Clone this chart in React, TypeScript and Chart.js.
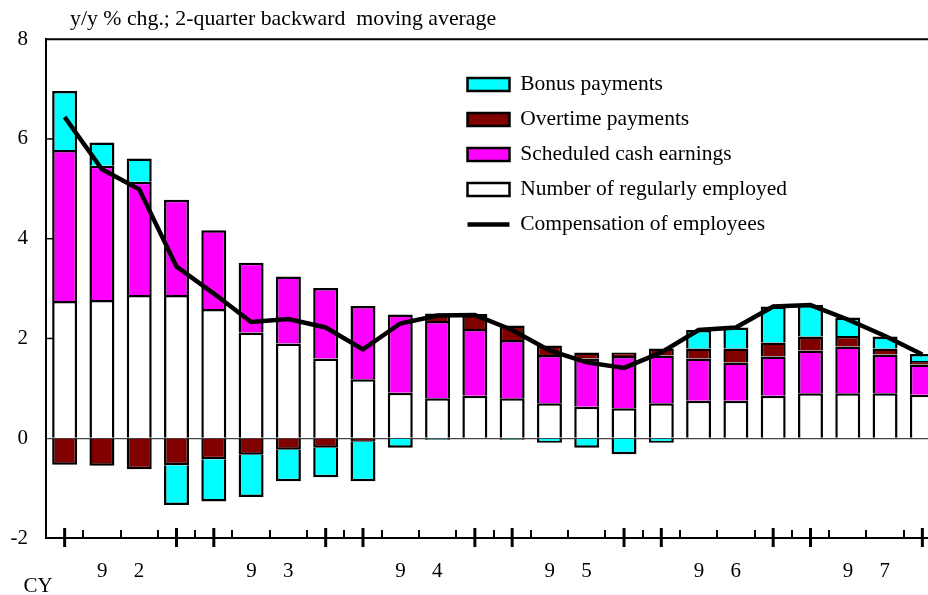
import React, { useEffect, useRef } from 'react';
import { Chart, registerables } from 'chart.js';

Chart.register(...registerables);

const quarters = [
  '92Q1', '92Q2', '92Q3', '92Q4',
  '93Q1', '93Q2', '93Q3', '93Q4',
  '94Q1', '94Q2', '94Q3', '94Q4',
  '95Q1', '95Q2', '95Q3', '95Q4',
  '96Q1', '96Q2', '96Q3', '96Q4',
  '97Q1', '97Q2', '97Q3', '97Q4',
];
const yearLabels = ['9     2', '9     3', '9     4', '9     5', '9     6', '9     7'];

const employed = [2.75, 2.77, 2.87, 2.87, 2.59, 2.12, 1.90, 1.60, 1.18, 0.91, 0.80, 0.85, 0.80, 0.70, 0.63, 0.60, 0.70, 0.75, 0.75, 0.85, 0.90, 0.90, 0.90, 0.87];
const scheduled = [3.03, 2.69, 2.27, 1.91, 1.58, 1.40, 1.34, 1.41, 1.47, 1.57, 1.55, 1.34, 1.17, 0.97, 0.97, 1.05, 0.96, 0.85, 0.77, 0.79, 0.86, 0.94, 0.78, 0.61];
const overtime = [-0.53, -0.55, -0.62, -0.54, -0.42, -0.33, -0.23, -0.19, -0.07, 0, 0.15, 0.30, 0.29, 0.19, 0.12, 0.07, 0.14, 0.20, 0.28, 0.28, 0.28, 0.21, 0.12, 0.07];
const bonus = [1.18, 0.47, 0.47, -0.80, -0.85, -0.85, -0.63, -0.59, -0.79, -0.19, -0.03, 0, -0.03, -0.09, -0.19, -0.32, -0.09, 0.37, 0.42, 0.72, 0.63, 0.37, 0.24, 0.14];
const compensation = [6.44, 5.39, 4.99, 3.44, 2.90, 2.33, 2.39, 2.22, 1.78, 2.30, 2.46, 2.47, 2.17, 1.76, 1.52, 1.41, 1.72, 2.17, 2.22, 2.64, 2.67, 2.38, 2.05, 1.68];

const yTicks = [-2, 0, 2, 4, 6, 8];
const legendRank = [3, 2, 1, 0, 4];

const SERIF = '"Liberation Serif", "Times New Roman", Times, serif';

const framePlugin = {
  id: 'framePlugin',
  afterLayout(chart: any) {
    const ca = chart.chartArea;
    const t = chart.titleBlock;
    if (t) {
      const w = t.right - t.left;
      t.left = ca.left + 24;
      t.right = t.left + w;
    }
    const lg = chart.legend;
    if (lg) {
      const w = lg.width;
      const h = lg.height;
      lg.left = ca.left + 408;
      lg.top = ca.top + 21;
      lg.right = lg.left + w;
      lg.bottom = lg.top + h;
    }
  },
  afterDraw(chart: any) {
    const { ctx, chartArea: ca, scales } = chart;
    const xs = scales.x;
    const ys = scales.y;
    ctx.save();
    ctx.strokeStyle = '#000';
    ctx.lineWidth = 2;
    ctx.beginPath();
    ctx.moveTo(ca.left - 1, ca.top);
    ctx.lineTo(chart.width, ca.top);
    ctx.stroke();

    ctx.lineWidth = 1.5;
    for (const v of yTicks) {
      if (v === -2 || v === 8 || v === 0) continue;
      const py = ys.getPixelForValue(v);
      ctx.beginPath();
      ctx.moveTo(ca.left, py);
      ctx.lineTo(ca.left + 8, py);
      ctx.stroke();
    }

    const base = ys.getPixelForValue(-2);
    const n = quarters.length;
    for (let i = 0; i < n; i++) {
      const px = xs.getPixelForValue(i);
      if (i < n - 1) {
        const bx = Math.round((px + xs.getPixelForValue(i + 1)) / 2);
        ctx.lineWidth = 2;
        ctx.beginPath();
        ctx.moveTo(bx, base - 8);
        ctx.lineTo(bx, base);
        ctx.stroke();
      }
      if (i % 4 === 0 || i % 4 === 3) {
        ctx.lineWidth = 3;
        ctx.beginPath();
        ctx.moveTo(px, base - 10);
        ctx.lineTo(px, base + 9);
        ctx.stroke();
      }
    }

    ctx.font = `21px ${SERIF}`;
    ctx.fillStyle = '#000';
    ctx.textAlign = 'center';
    ctx.textBaseline = 'middle';
    ctx.fillText('CY', ca.left - 8, chart.height - 9);
    ctx.restore();
  },
};

export default function App() {
  const ref = useRef<HTMLCanvasElement | null>(null);

  useEffect(() => {
    if (!ref.current) return;
    const chart = new Chart(ref.current, {
      type: 'bar',
      data: {
        labels: quarters,
        datasets: [
          { label: 'Number of regularly employed', data: employed, backgroundColor: '#FFFFFF', borderColor: '#000000', borderWidth: 2.5, order: 1 },
          { label: 'Scheduled cash earnings', data: scheduled, backgroundColor: '#FF00FF', borderColor: '#000000', borderWidth: 2.5, order: 1 },
          { label: 'Overtime payments', data: overtime, backgroundColor: '#800000', borderColor: '#000000', borderWidth: 2.5, order: 1 },
          { label: 'Bonus payments', data: bonus, backgroundColor: '#00FFFF', borderColor: '#000000', borderWidth: 2.5, order: 1 },
          {
            type: 'line',
            label: 'Compensation of employees',
            data: compensation,
            borderColor: '#000000',
            backgroundColor: '#000000',
            borderWidth: 4.5,
            pointRadius: 0,
            tension: 0,
            order: 0,
            stack: 'comp',
          } as any,
        ],
      },
      options: {
        responsive: false,
        animation: false,
        devicePixelRatio: 1,
        layout: { padding: { left: 0, right: 4, top: 0, bottom: 0 } },
        datasets: { bar: { barPercentage: 0.67, categoryPercentage: 1 } } as any,
        plugins: {
          title: {
            display: true,
            text: 'y/y % chg.; 2-quarter backward  moving average',
            align: 'start',
            color: '#000',
            font: { family: SERIF, size: 21.8, weight: 'normal' },
            padding: { top: 6, bottom: 7 },
          },
          legend: {
            position: 'chartArea' as any,
            align: 'start',
            labels: {
              usePointStyle: true,
              pointStyleWidth: 42,
              boxHeight: 13,
              padding: 13.5,
              color: '#000',
              font: { family: SERIF, size: 21.5 },
              generateLabels: (c: any) => {
                const items = (Chart.defaults as any).plugins.legend.labels.generateLabels(c);
                return items.map((it: any) => ({
                  ...it,
                  pointStyle: c.data.datasets[it.datasetIndex].type === 'line' ? 'line' : 'rect',
                }));
              },
              sort: (a: any, b: any) => legendRank[a.datasetIndex] - legendRank[b.datasetIndex],
            },
          },
          tooltip: { enabled: false },
        },
        scales: {
          x: {
            stacked: true,
            offset: true,
            grid: { display: true, drawOnChartArea: false, drawTicks: false },
            border: { display: true, color: '#000', width: 2 },
            ticks: {
              autoSkip: false,
              maxRotation: 0,
              minRotation: 0,
              padding: 21,
              labelOffset: 18.65,
              color: '#000',
              font: { family: SERIF, size: 21 },
              callback: (_v: any, i: number) => (i % 4 === 1 ? yearLabels[(i - 1) / 4] : ''),
            },
            afterFit: (s: any) => { s.height = 57; },
          },
          y: {
            stacked: true,
            min: -2,
            max: 8,
            afterBuildTicks: (s: any) => { s.ticks = yTicks.map((v) => ({ value: v })); },
            ticks: {
              stepSize: 2,
              padding: 18,
              color: '#000',
              font: { family: SERIF, size: 21 },
            },
            grid: {
              drawTicks: false,
              lineWidth: 1.2,
              color: (c: any) => (c.tick && c.tick.value === 0 ? '#444444' : 'rgba(0,0,0,0)'),
            },
            border: { display: true, color: '#000', width: 2 },
            afterFit: (s: any) => { s.width = 46; },
          },
        },
      } as any,
      plugins: [framePlugin],
    });
    return () => chart.destroy();
  }, []);

  return (
    <div style={{ position: 'absolute', left: 0, top: 0, width: 928, height: 595, overflow: 'hidden', background: '#fff' }}>
      <canvas ref={ref} width={945} height={595} style={{ display: 'block' }} />
    </div>
  );
}
